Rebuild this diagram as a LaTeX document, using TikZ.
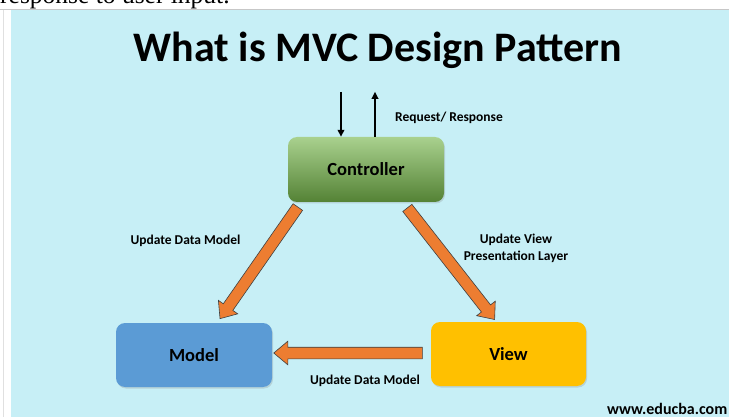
\documentclass[tikz,border=0pt]{standalone}
\usepackage{fontspec}
\setmainfont{Carlito}
\newfontfamily\pagefont{Liberation Serif}
\usetikzlibrary{arrows.meta,calc,positioning,shapes.arrows,shadows}
\definecolor{bgcyan}{RGB}{199,239,246}
\definecolor{mvcblue}{RGB}{91,155,213}
\definecolor{mvcyellow}{RGB}{255,192,0}
\definecolor{mvcorange}{RGB}{237,125,49}
\definecolor{greentop}{RGB}{169,209,142}
\definecolor{greenbot}{RGB}{84,130,53}

\begin{document}
\begin{tikzpicture}[x=1pt,y=-1pt,>=Stealth,
  box/.style={rounded corners=9pt,minimum width=156pt,minimum height=64pt,
    font=\fontsize{18.5}{20}\selectfont\bfseries,
    drop shadow={shadow xshift=1pt,shadow yshift=-1.5pt,opacity=.25}},
  lbl/.style={font=\fontsize{13.5}{17}\selectfont\bfseries,align=center},
  thinarrow/.style={line width=1.8pt,-{Triangle[length=7pt,width=6.5pt]}},
  fat/.style={single arrow,draw=black!75,line width=.6pt,fill=mvcorange,
    inner xsep=0pt,inner ysep=5.5pt,outer sep=0pt,minimum width=0pt,
    single arrow head extend=6pt,single arrow tip angle=80}]
  \useasboundingbox (0,0) rectangle (729,417);
  \fill[white] (0,0) rectangle (729,417);
  \begin{scope}
    \clip (0,0) rectangle (729,417);
    \node[anchor=base west,inner sep=0pt,font=\pagefont\fontsize{25.5}{30}\selectfont] (prev) at (0,3.5) {response to user input.};
  \end{scope}
  \draw[black!22] (0,9.5) -- (729,9.5);
  \draw[black!12] (3,10) -- (3,417);
  \fill[bgcyan] (11,10.5) rectangle (729,417);

  \node[font=\fontsize{42}{48}\selectfont\bfseries] (title) at (378,50) {What is MVC Design Pattern};

  % boxes
  \node[box,top color=greentop,bottom color=greenbot,minimum height=65pt] (ctrl) at (366,169.5) {Controller};
  \node[box,fill=mvcblue] (model) at (194,355) {Model};
  \node[box,fill=mvcyellow,minimum width=155pt] (view) at (508.5,354) {View};

  % request / response
  \coordinate (reqin) at ($(ctrl.north)+(-25,-45)$);
  \coordinate (resout) at ($(ctrl.north)+(9,-45)$);
  \draw[thinarrow] (reqin) -- (reqin |- ctrl.north);
  \draw[thinarrow] (resout |- ctrl.north) -- (resout);
  \node[lbl] (reqlbl) at (449,118) {Request/ Response};

  % orange block arrows
  \coordinate (c1) at ($(ctrl.south west)+(12,2)$);
  \coordinate (m1) at ($(model.north)+(28,-7)$);
  \coordinate (c2) at ($(ctrl.south east)+(-39,3)$);
  \coordinate (v1) at ($(view.north)+(-16,-5)$);
  \coordinate (v2) at ($(view.west)+(-5,-1)$);
  \coordinate (m2) at ($(model.east)+(5,-2)$);
  \foreach \s/\t in {c1/m1,c2/v1,v2/m2}
    \path let \p1=(\s), \p2=(\t), \n1={atan2(\y2-\y1,\x2-\x1)}, \n2={veclen(\x2-\x1,\y2-\y1)}
      in node[fat,rotate=\n1,minimum height=\n2] (arr-\s) at ($(\s)!.5!(\t)$) {};

  \node[lbl] (lblcm) at (185.5,241) {Update Data Model};
  \node[lbl] (lblcv) at (516,248.5) {Update View\\Presentation Layer};
  \node[lbl] (lblvm) at (365,381) {Update Data Model};
  \node[font=\fontsize{16}{18}\selectfont\bfseries,anchor=east,inner sep=0.5pt] (site) at (728,409) {www.educba.com};
\end{tikzpicture}
\end{document}
